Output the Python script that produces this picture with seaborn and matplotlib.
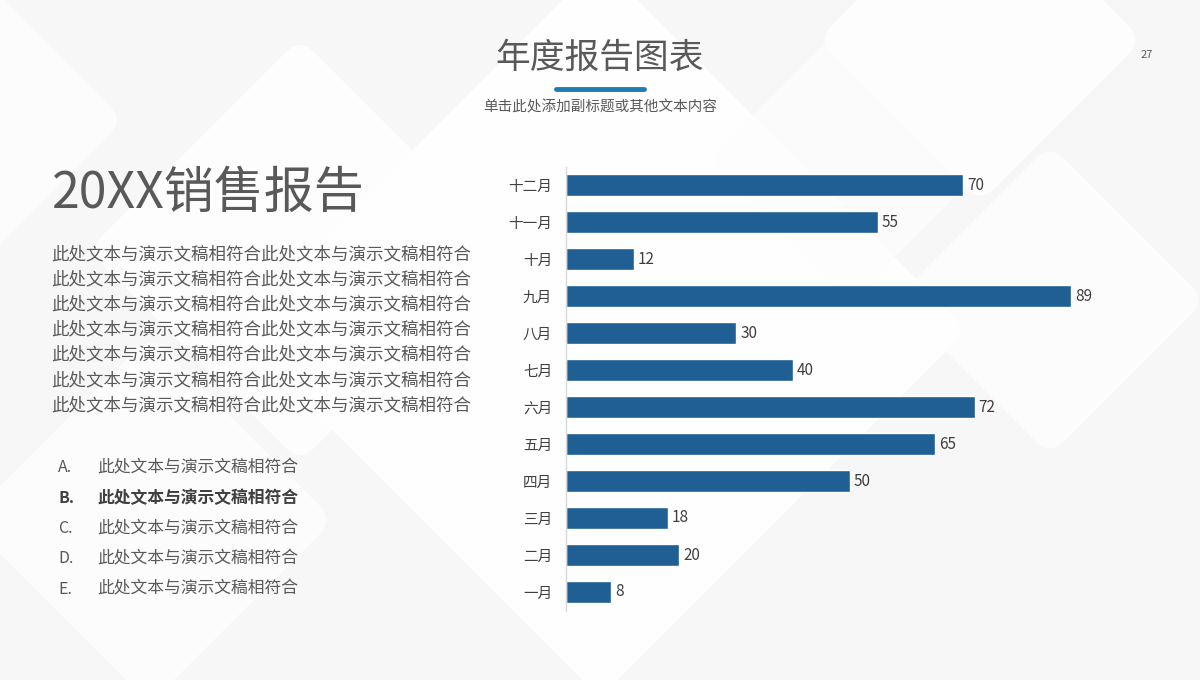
import matplotlib
matplotlib.use("Agg")
import matplotlib.pyplot as plt
from matplotlib.patches import FancyBboxPatch
import matplotlib.transforms as mtransforms
import seaborn as sns
import pandas as pd

months = ["十二月", "十一月", "十月", "九月", "八月", "七月", "六月", "五月", "四月", "三月", "二月", "一月"]
sales = [70, 55, 12, 89, 30, 40, 72, 65, 50, 18, 20, 8]

title = "年度报告图表"
subtitle = "单击此处添加副标题或其他文本内容"
page_no = "27"
heading = "20XX销售报告"
para_line = "此处文本与演示文稿相符合此处文本与演示文稿相符合"
list_letters = ["A.", "B.", "C.", "D.", "E."]
list_text = "此处文本与演示文稿相符合"

sns.set_theme(style="white")
plt.rcParams['font.family'] = ['Noto Sans CJK SC', 'DejaVu Sans']

df = pd.DataFrame({"month": months, "sales": sales})

fig = plt.figure(figsize=(12, 6.8), dpi=100)
fig.patch.set_facecolor("#f7f7f7")

# subtle background shapes
bg = fig.add_axes([0, 0, 1, 1], zorder=-10)
bg.set_xlim(0, 1200)
bg.set_ylim(680, 0)
bg.axis("off")
shapes = [
    (600, 330, 520, 0.9, "#ffffff"),
    (980, 40, 230, 0.8, "#ffffff"),
    (850, 160, 200, 0.7, "#fdfdfd"),
    (1050, 300, 220, 0.7, "#ffffff"),
    (150, 520, 260, 0.7, "#ffffff"),
    (-60, 120, 260, 0.7, "#ffffff"),
    (300, 250, 300, 0.8, "#ffffff"),
]
for cx, cy, s, a, c in shapes:
    p = FancyBboxPatch((cx - s / 2, cy - s / 2), s, s,
                       boxstyle="round,pad=0,rounding_size=20",
                       facecolor=c, edgecolor="none", alpha=a)
    t = mtransforms.Affine2D().rotate_deg_around(cx, cy, 45) + bg.transData
    p.set_transform(t)
    bg.add_patch(p)

# chart axes
ax = fig.add_axes([566 / 1200, 1 - 610.5 / 680, 522 / 1200, 444 / 680])
ax.patch.set_alpha(0)
sns.barplot(data=df, y="month", x="sales", order=months, orient="h",
            color="#1f5f94", saturation=1, width=0.58, ax=ax)
ax.set_xlim(0, 92)
ax.set_ylim(len(months) - 0.5, -0.5)
ax.set_xlabel("")
ax.set_ylabel("")
ax.set_xticks([])
for s in ["top", "right", "bottom"]:
    ax.spines[s].set_visible(False)
ax.spines["left"].set_color("#d9d9d9")
ax.spines["left"].set_linewidth(1)
ax.tick_params(axis="y", which="major", length=0, pad=10, labelsize=10.5, labelcolor="#404040")
ax.set_yticks([i + 0.5 for i in range(-1, len(months))], minor=True)
ax.tick_params(axis="y", which="minor", length=4, color="#d9d9d9", width=1)
for i, v in enumerate(sales):
    ax.text(v + 0.7, i, str(v), va="center", ha="left", fontsize=11, color="#404040")

# texts
fig.text(600 / 1200, 1 - 58 / 680, title, ha="center", va="center", fontsize=25, color="#595959")
fig.add_artist(plt.Line2D([556 / 1200, 644 / 1200], [1 - 89 / 680] * 2, color="#1b7db3",
                          linewidth=3.5, solid_capstyle="round"))
fig.text(600 / 1200, 1 - 107 / 680, subtitle, ha="center", va="center", fontsize=10.5, color="#595959")
fig.text(1147 / 1200, 1 - 55 / 680, page_no, ha="center", va="center", fontsize=8, color="#595959")

fig.text(52 / 1200, 1 - 194 / 680, heading, ha="left", va="center", fontsize=36, color="#595959")
for k in range(7):
    y = 254 + k * 25.2
    fig.text(51 / 1200, 1 - y / 680, para_line, ha="left", va="center", fontsize=12.6, color="#595959")

for k, letter in enumerate(list_letters):
    y = 468 + k * 30.3
    bold = (k == 1)
    col = "#404040" if bold else "#595959"
    w = "bold" if bold else "normal"
    fig.text(58 / 1200, 1 - y / 680, letter, ha="left", va="center", fontsize=11.5, color=col, weight=w)
    fig.text(97 / 1200, 1 - y / 680, list_text, ha="left", va="center", fontsize=12.1, color=col, weight=w)

fig.savefig("out.png", dpi=100, facecolor=fig.get_facecolor())
